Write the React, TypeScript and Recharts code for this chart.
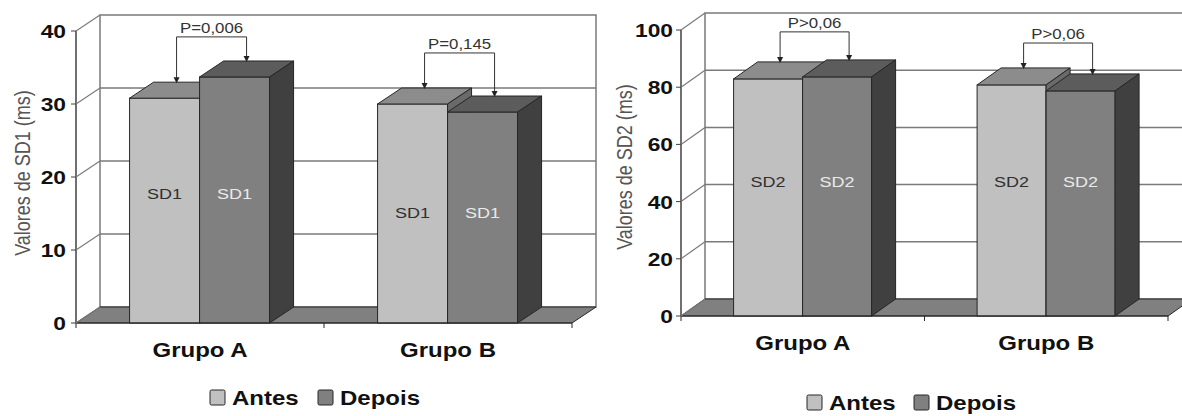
import React from 'react';
import { BarChart, Bar, XAxis, YAxis, ReferenceArea, ReferenceLine } from 'recharts';

// ---- data ----
const categories = ['Grupo A', 'Grupo B'];
const seriesNames = ['Antes', 'Depois'];

const sd1Antes = [30.8, 30.0];
const sd1Depois = [33.7, 28.9];
const sd1PText = ['P=0,006', 'P=0,145'];
const sd1Bracket = [37.0, 34.8];
const sd1LabelAt = [17.7, 15.2];
const sd1Ticks = [0, 10, 20, 30, 40];

const sd2Antes = [82.9, 80.8];
const sd2Depois = [83.6, 78.7];
const sd2PText = ['P>0,06', 'P>0,06'];
const sd2Bracket = [93.4, 89.5];
const sd2LabelAt = [46.9, 46.9];
const sd2Ticks = [0, 20, 40, 60, 80, 100];

const buildRows = (antes: number[], depois: number[], p: string[], bracket: number[], labelAt: number[]) =>
  categories.map((name, i) => ({ name, antes: antes[i], depois: depois[i], p: p[i], bracket: bracket[i], labelAt: labelAt[i] }));

const sd1Rows = buildRows(sd1Antes, sd1Depois, sd1PText, sd1Bracket, sd1LabelAt);
const sd2Rows = buildRows(sd2Antes, sd2Depois, sd2PText, sd2Bracket, sd2LabelAt);

// ---- look ----
const FONT = '"Liberation Sans", Arial, sans-serif';
const SX = 1.2; // the original picture is stretched sideways
const EDGE = '#262626';
const GRID = '#7a7a7a';
const FLOOR = '#808080';
const ANTES = { front: '#C0C0C0', top: '#8C8C8C', side: '#6A6A6A' };
const DEPOIS = { front: '#808080', top: '#5C5C5C', side: '#404040' };

const SText = ({ x, y, anchor = 'middle', size, weight = 'normal', fill = '#000', children }: any) => (
  <text
    transform={`translate(${x},${y}) scale(${SX},1)`}
    textAnchor={anchor}
    fontSize={size}
    fontWeight={weight}
    fill={fill}
    fontFamily={FONT}
  >
    {children}
  </text>
);

const box = (x: number, y: number, w: number, h: number, dx: number, dy: number, c: any) => (
  <g>
    <rect x={x} y={y} width={w} height={h} fill={c.front} stroke={EDGE} />
    <polygon points={`${x},${y} ${x + dx},${y + dy} ${x + w + dx},${y + dy} ${x + w},${y}`} fill={c.top} stroke={EDGE} />
    <polygon
      points={`${x + w},${y} ${x + w + dx},${y + dy} ${x + w + dx},${y + h + dy} ${x + w},${y + h}`}
      fill={c.side}
      stroke={EDGE}
    />
  </g>
);

const barLabel = (x: number, w: number, base: number, k: number, level: number, text: string, fill: string) => (
  <SText x={x + w / 2} y={base - level * k + 5.5} size={15} fill={fill}>
    {text}
  </SText>
);

const makeAntesShape = (dx: number, dy: number, text: string) => (props: any) => {
  const { x, y, width: w, height: h, payload } = props;
  const base = y + h;
  const k = h / payload.antes;
  return (
    <g>
      {box(x, y, w, h, dx, dy, ANTES)}
      {barLabel(x, w, base, k, payload.labelAt, text, '#303030')}
    </g>
  );
};

// the Depois bar also carries the p-value bracket of its group
const makeDepoisShape = (dx: number, dy: number, text: string) => (props: any) => {
  const { x, y, width: w, height: h, payload } = props;
  const base = y + h;
  const k = h / payload.depois;
  const antesTop = base - payload.antes * k;
  const lineY = base - payload.bracket * k + dy;
  const ax = x - w / 2 + dx / 2;
  const bx = x + w / 2 + dx / 2;
  const aTip = antesTop + dy + 1;
  const bTip = y + dy + 1;
  const arrow = (ax0: number, tip: number) => (
    <g>
      <line x1={ax0} y1={lineY} x2={ax0} y2={tip - 4} stroke="#333" />
      <polygon points={`${ax0 - 3},${tip - 6} ${ax0 + 3},${tip - 6} ${ax0},${tip}`} fill="#222" />
    </g>
  );
  return (
    <g>
      {box(x, y, w, h, dx, dy, DEPOIS)}
      {barLabel(x, w, base, k, payload.labelAt, text, '#EAEAEA')}
      <line x1={ax} y1={lineY} x2={bx} y2={lineY} stroke="#333" />
      {arrow(ax, aTip)}
      {arrow(bx, bTip)}
      <SText x={(ax + bx) / 2} y={lineY - 4} size={14} fill="#333">
        {payload.p}
      </SText>
    </g>
  );
};

const makeWallShape = (dx: number, dy: number) => (props: any) => {
  const { x, y, width: w, height: h } = props;
  const fb = y + h;
  return (
    <g>
      <rect x={x + dx} y={y + dy} width={w} height={h} fill="#fff" stroke={GRID} strokeWidth={1.5} />
      <polygon
        points={`${x},${fb} ${x + w},${fb} ${x + w + dx},${fb + dy} ${x + dx},${fb + dy}`}
        fill={FLOOR}
        stroke={EDGE}
      />
      {[x, x + w / 2, x + w].map((tx) => (
        <line key={tx} x1={tx} y1={fb} x2={tx} y2={fb + 5} stroke={EDGE} />
      ))}
    </g>
  );
};

const makeGridShape = (dx: number, dy: number) => (p: any) => (
  <line x1={p.x1 + dx} y1={p.y1 + dy} x2={p.x2 + dx} y2={p.y2 + dy} stroke={GRID} strokeWidth={1.5} />
);

const makeYTick = (dx: number, dy: number, gap: number) => (p: any) => {
  const { x, y, payload } = p;
  return (
    <g>
      <line x1={x} y1={y} x2={x + dx} y2={y + dy} stroke={GRID} strokeWidth={1.2} />
      <line x1={x - 5} y1={y} x2={x} y2={y} stroke="#404040" />
      <SText x={x - gap} y={y + 7} anchor="end" size={19} weight="bold" fill="#111">
        {payload.value}
      </SText>
    </g>
  );
};

const XTick = (p: any) => (
  <SText x={p.x} y={p.y + 34} size={20} weight="bold" fill="#111">
    {p.payload.value}
  </SText>
);

interface Chart3DProps {
  rows: any[];
  ticks: number[];
  barText: string;
  width: number;
  yWidth: number;
  margin: { top: number; right: number; bottom: number; left: number };
  dx: number;
  dy: number;
  tickGap: number;
}

const Chart3D = ({ rows, ticks, barText, width, yWidth, margin, dx, dy, tickGap }: Chart3DProps) => {
  const top = ticks[ticks.length - 1];
  return (
    <BarChart width={width} height={416} data={rows} margin={margin} barCategoryGap="21.6%" barGap={0}>
      <ReferenceArea y1={0} y2={top} ifOverflow="visible" shape={makeWallShape(dx, dy)} zIndex={-20} />
      {ticks.slice(1, -1).map((v) => (
        <ReferenceLine key={v} y={v} ifOverflow="visible" shape={makeGridShape(dx, dy)} zIndex={-10} />
      ))}
      <XAxis
        dataKey="name"
        interval={0}
        height={30}
        tickSize={0}
        tickMargin={0}
        tickLine={false}
        axisLine={{ stroke: EDGE }}
        tick={XTick}
      />
      <YAxis
        type="number"
        domain={[0, top]}
        ticks={ticks}
        interval={0}
        width={yWidth}
        tickSize={0}
        tickMargin={0}
        tickLine={false}
        axisLine={{ stroke: '#404040', strokeWidth: 1.5 }}
        tick={makeYTick(dx, dy, tickGap)}
      />
      <Bar dataKey="antes" name={seriesNames[0]} fill={ANTES.front} isAnimationActive={false} shape={makeAntesShape(dx, dy, barText)} />
      <Bar dataKey="depois" name={seriesNames[1]} fill={DEPOIS.front} isAnimationActive={false} shape={makeDepoisShape(dx, dy, barText)} />
    </BarChart>
  );
};

const LegendItems = ({ x, y, gapX }: { x: number; y: number; gapX: number }) => (
  <g>
    {seriesNames.map((name, i) => {
      const sx = x + i * gapX;
      return (
        <g key={name}>
          <rect x={sx} y={y} width={15} height={15} fill={i === 0 ? ANTES.front : DEPOIS.front} stroke={EDGE} rx={1.5} />
          <SText x={sx + 22} y={y + 15} anchor="start" size={20} weight="bold" fill="#111">
            {name}
          </SText>
        </g>
      );
    })}
  </g>
);

const AxisTitle = ({ x, y, text }: { x: number; y: number; text: string }) => (
  <text
    transform={`translate(${x},${y}) scale(${SX},1) rotate(-90)`}
    textAnchor="middle"
    fontSize={18}
    fill="#555"
    fontFamily={FONT}
  >
    {text}
  </text>
);

export default function App() {
  return (
    <div style={{ position: 'absolute', left: 0, top: 0, width: 1182, height: 416, background: '#fff', overflow: 'hidden' }}>
      <div style={{ position: 'absolute', left: 0, top: 0 }}>
        <Chart3D
          rows={sd1Rows}
          ticks={sd1Ticks}
          barText="SD1"
          width={600}
          yWidth={76}
          margin={{ top: 31, right: 28, bottom: 63, left: 0 }}
          dx={24}
          dy={-16}
          tickGap={10}
        />
      </div>
      <div style={{ position: 'absolute', left: 600, top: 0 }}>
        <Chart3D
          rows={sd2Rows}
          ticks={sd2Ticks}
          barText="SD2"
          width={582}
          yWidth={81}
          margin={{ top: 30, right: 14, bottom: 70, left: 0 }}
          dx={24}
          dy={-17}
          tickGap={8}
        />
      </div>
      <svg width={1182} height={416} style={{ position: 'absolute', left: 0, top: 0, pointerEvents: 'none' }}>
        <AxisTitle x={30} y={173} text="Valores de SD1 (ms)" />
        <AxisTitle x={632} y={167} text="Valores de SD2 (ms)" />
        <LegendItems x={210} y={390} gapX={108} />
        <LegendItems x={807} y={395} gapX={107} />
      </svg>
    </div>
  );
}
